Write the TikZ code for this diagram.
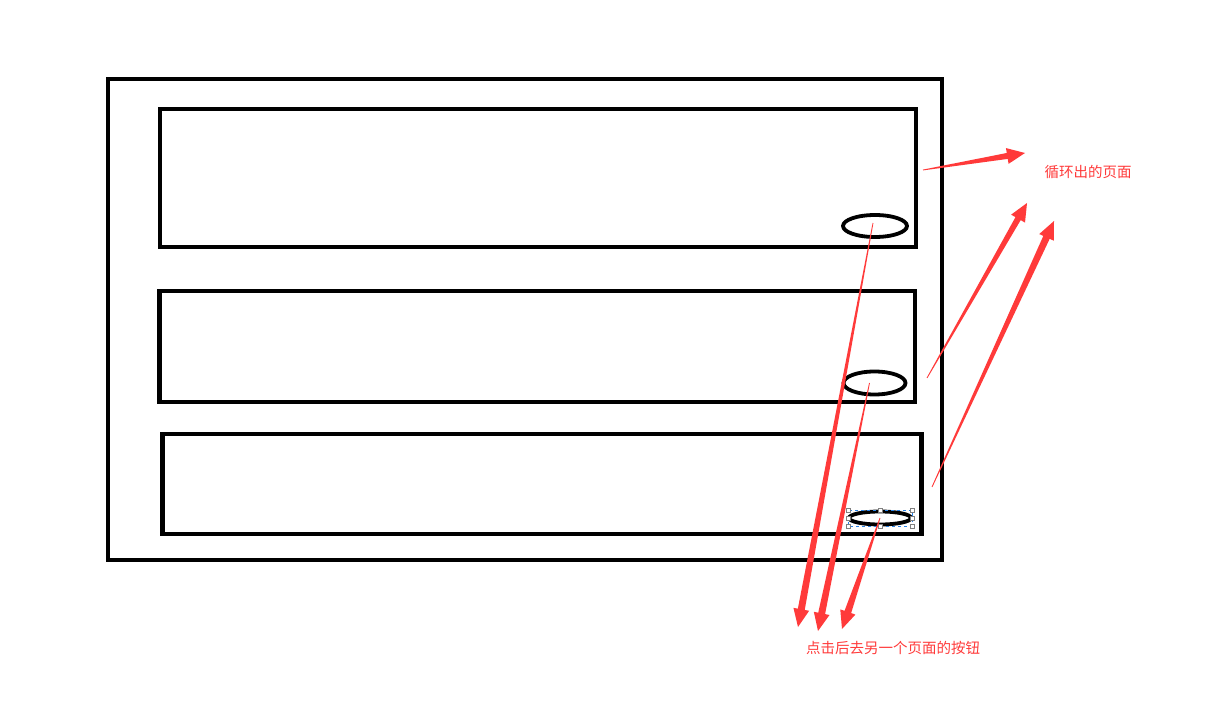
\documentclass[tikz,border=0pt]{standalone}
\usepackage{fontspec}
\newfontfamily\cjk{Noto Sans CJK SC}
\usepackage{xcolor}
\usetikzlibrary{calc, shapes.geometric, positioning}
\definecolor{arrowred}{RGB}{255,58,58}
\definecolor{selblue}{RGB}{40,130,230}

% tapered arrow: start, tip, half width of shaft end
\newcommand{\taperarrow}[3]{%
  \path (#1) coordinate (ta) (#2) coordinate (tb);
  \path ($(tb)!18pt!(ta)$) coordinate (th);
  \fill[arrowred] ($(ta)!0.4pt!90:(tb)$) -- ($(th)!#3!90:(tb)$) -- ($(th)!8pt!90:(tb)$)
    -- (tb) -- ($(th)!8pt!-90:(tb)$) -- ($(th)!#3!-90:(tb)$) -- ($(ta)!0.4pt!-90:(tb)$) -- cycle;
}

\begin{document}
\begin{tikzpicture}[x=1pt, y=-1pt,
    panel/.style={draw, line width=4.5pt, rectangle, inner sep=0pt},
    btn/.style={draw, line width=3.8pt, ellipse, inner sep=0pt},
    handle/.style={draw=gray, fill=white, line width=0.6pt, rectangle, minimum size=4pt, inner sep=0pt},
    lab/.style={text=arrowred, font=\cjk\fontsize{14.5}{17}\selectfont}]
  \useasboundingbox (0,0) rectangle (1229,711);
  \node[panel, minimum width=834pt, minimum height=481pt] (outer) at (525,319.5) {};
  \node[panel, minimum width=756pt, minimum height=138pt] (r1) at (538,178) {};
  \node[panel, minimum width=755.5pt, minimum height=111pt] (r2) at (537,346.5) {};
  \node[panel, minimum width=759pt, minimum height=100pt] (r3) at (542,484) {};
  \node[btn, minimum width=64pt, minimum height=22pt] (b1) at (875,226) {};
  \node[btn, minimum width=62pt, minimum height=23pt] (b2) at (874.5,383) {};
  \node[btn, minimum width=62pt, minimum height=13pt] (b3) at (880,518) {};
  % selection frame round the last button
  \draw[selblue, dashed, line width=0.7pt] (848,510) rectangle (912,526);
  \foreach \hx/\hy in {848/510, 880/510, 912/510, 848/518, 912/518, 848/526, 880/526, 912/526}
    \node[handle] at (\hx,\hy) {};
  \node[lab] (lab1) at (1088,172) {循环出的页面};
  \node[lab] (lab2) at (893,648) {点击后去另一个页面的按钮};
  % start and tip points of the arrows
  \coordinate (s1) at (923,170);
  \coordinate (s2) at (927,378);
  \coordinate (s3) at (932,487);
  \coordinate (t1) at (1025,153);
  \coordinate (t2) at (1027,203);
  \coordinate (t3) at (1054,221);
  \coordinate (d1) at (798,627);
  \coordinate (d2) at (818,631);
  \coordinate (d3) at (842,629);
  \taperarrow{s1}{t1}{3pt}
  \taperarrow{s2}{t2}{3pt}
  \taperarrow{s3}{t3}{3.5pt}
  \taperarrow{$(b1.center)+(-2,-3)$}{d1}{3.5pt}
  \taperarrow{$(b2.center)+(-5,0)$}{d2}{3.5pt}
  \taperarrow{b3.center}{d3}{3.5pt}
\end{tikzpicture}
\end{document}
